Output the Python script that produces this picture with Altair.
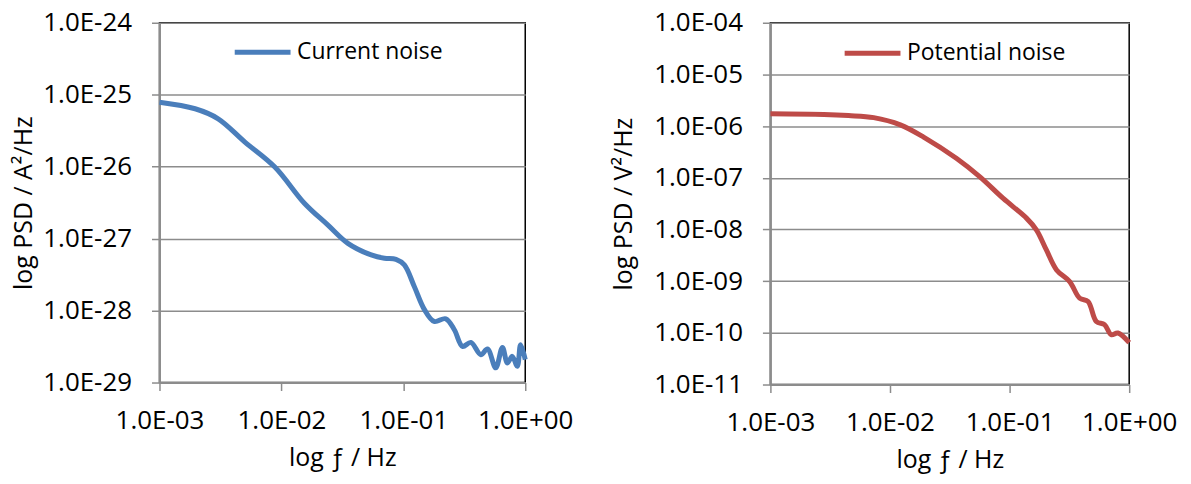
import altair as alt
import pandas as pd

# Left panel: current noise (f in Hz, PSD in A^2/Hz)
cur_f = [0.001, 0.00196, 0.00303, 0.00502, 0.00883, 0.0155, 0.0241, 0.0351, 0.0545, 0.0700,
         0.0871, 0.102, 0.123, 0.149, 0.179, 0.223, 0.262, 0.306, 0.358, 0.432,
         0.490, 0.573, 0.650, 0.714, 0.783, 0.861, 0.916, 1.0]
cur_psd = [7.87e-26, 6.38e-26, 4.63e-26, 2.20e-26, 9.9e-27, 3.08e-27, 1.54e-27, 8.6e-28, 5.93e-28, 5.33e-28,
           5.16e-28, 4.31e-28, 2.16e-28, 1.03e-28, 7.06e-29, 7.69e-29, 5.42e-29, 3.18e-29, 3.61e-29, 2.44e-29,
           2.93e-29, 1.60e-29, 3.08e-29, 1.87e-29, 2.31e-29, 1.68e-29, 3.36e-29, 2.08e-29]

# Right panel: potential noise (f in Hz, PSD in V^2/Hz)
pot_f = [0.001, 0.0028, 0.0045, 0.00731, 0.0122, 0.0191, 0.0361, 0.0565, 0.0885, 0.139, 0.168,
         0.203, 0.247, 0.318, 0.385, 0.453, 0.531, 0.622, 0.708, 0.805, 1.0]
pot_psd = [1.73e-6, 1.68e-6, 1.60e-6, 1.46e-6, 1.06e-6, 6.14e-7, 2.36e-7, 1.04e-7, 3.98e-8, 1.64e-8, 9.75e-9,
           4.02e-9, 1.65e-9, 9.82e-10, 4.70e-10, 4.05e-10, 1.66e-10, 1.44e-10, 9.2e-11, 9.93e-11, 6.46e-11]

x_ticks = [0.001, 0.01, 0.1, 1.0]
cur_ticks = [1e-29, 1e-28, 1e-27, 1e-26, 1e-25, 1e-24]
pot_ticks = [1e-11, 1e-10, 1e-9, 1e-8, 1e-7, 1e-6, 1e-5, 1e-4]

FONT = "Open Sans"
GRAY = "#8c8c8c"
label_expr = ("'1.0E' + (round(log(datum.value)/LN10) < 0 ? '-' : '+') + "
              "(abs(round(log(datum.value)/LN10)) < 10 ? '0' : '') + abs(round(log(datum.value)/LN10))")


def panel(f, psd, name, color, yticks, ytitle, w, h, lx, ly, ytp):
    df = pd.DataFrame({"f": f, "psd": psd, "series": name})
    return alt.Chart(df).mark_line(strokeWidth=5, interpolate="catmull-rom").encode(
        x=alt.X("f:Q", scale=alt.Scale(type="log", domain=[x_ticks[0], x_ticks[-1]]),
                axis=alt.Axis(values=x_ticks, labelExpr=label_expr, title="log ƒ / Hz",
                              grid=False, labelOverlap=False, labelFlush=False,
                              labelPadding=17, titlePadding=12)),
        y=alt.Y("psd:Q", scale=alt.Scale(type="log", domain=[yticks[0], yticks[-1]]),
                axis=alt.Axis(values=yticks, labelExpr=label_expr, title=ytitle,
                              labelOverlap=False, labelFlush=False,
                              labelPadding=20, titlePadding=ytp)),
        color=alt.Color("series:N", scale=alt.Scale(domain=[name], range=[color]),
                        legend=alt.Legend(title=None, orient="none", legendX=lx, legendY=ly,
                                          symbolType="stroke", symbolSize=3136,
                                          symbolStrokeWidth=5, labelFontSize=23,
                                          labelFont=FONT, labelColor="black", padding=0,
                                          labelOffset=4)),
    ).properties(width=w, height=h)


left = panel(cur_f, cur_psd, "Current noise", "#4a7ebb", cur_ticks, "log PSD / A²/Hz",
             367, 361, 73, -1, 6)
right = panel(pot_f, pot_psd, "Potential noise", "#be4b48", pot_ticks, "log PSD / V²/Hz",
              360, 363, 72, 0, 17)

chart = alt.hconcat(left, right, spacing=37).resolve_scale(
    color="independent"
).resolve_legend(color="independent").properties(
    padding={"left": 3, "top": 0, "right": 5, "bottom": 5}
).configure_view(
    stroke="black", strokeWidth=1.5
).configure_axis(
    labelFont=FONT, labelFontSize=26, labelColor="black",
    titleFont=FONT, titleFontSize=25, titleFontWeight="normal", titleColor="black",
    gridColor=GRAY, gridWidth=1.5, gridOpacity=1,
    domainColor=GRAY, domainWidth=2,
    tickColor=GRAY, tickWidth=1.5, tickSize=8,
)

chart.save("out.html", embed_options={"renderer": "svg", "actions": False})
